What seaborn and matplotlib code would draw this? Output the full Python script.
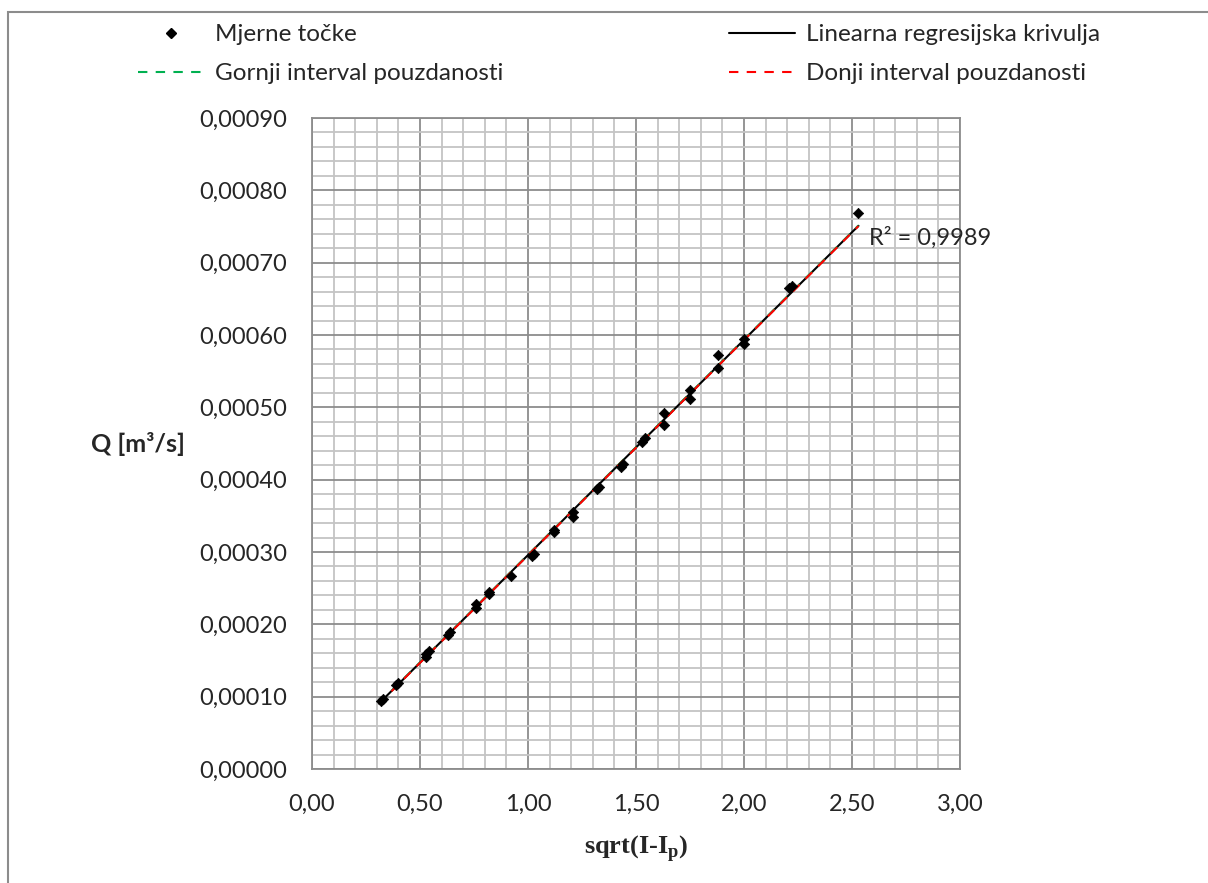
import numpy as np
import pandas as pd
import matplotlib
matplotlib.use("Agg")
import matplotlib.pyplot as plt
import matplotlib.patches as mpatches
from matplotlib.lines import Line2D
from matplotlib.ticker import MultipleLocator, FuncFormatter
import seaborn as sns

# ---------------- data ----------------
x_vals = [0.32, 0.33, 0.39, 0.40, 0.53, 0.53, 0.54, 0.63, 0.64, 0.76, 0.76,
          0.82, 0.82, 0.92, 1.02, 1.03, 1.12, 1.12, 1.21, 1.21, 1.32, 1.33,
          1.43, 1.44, 1.53, 1.54, 1.63, 1.63, 1.75, 1.75, 1.88, 1.88, 2.00,
          2.00, 2.21, 2.22, 2.53]
q_vals = [0.0000940, 0.0000965, 0.0001165, 0.0001195, 0.0001550, 0.0001590,
          0.0001630, 0.0001850, 0.0001900, 0.0002225, 0.0002275, 0.0002415,
          0.0002445, 0.0002665, 0.0002945, 0.0002975, 0.0003270, 0.0003300,
          0.0003490, 0.0003550, 0.0003875, 0.0003895, 0.0004170, 0.0004210,
          0.0004520, 0.0004570, 0.0004760, 0.0004920, 0.0005120, 0.0005240,
          0.0005550, 0.0005730, 0.0005870, 0.0005950, 0.0006650, 0.0006680,
          0.0007690]

# regression line and confidence limits (end points)
line_x = [0.31, 2.53]
fit_q = [0.0000905, 0.0007510]
upper_q = [0.0000908, 0.0007514]
lower_q = [0.0000902, 0.0007506]

r2_label = "R² = 0,9989"
legend_labels = ["Mjerne točke", "Linearna regresijska krivulja",
                 "Gornji interval pouzdanosti", "Donji interval pouzdanosti"]

df = pd.DataFrame({"x": x_vals, "q": q_vals})
line_df = pd.DataFrame({"x": line_x, "fit": fit_q, "up": upper_q, "low": lower_q})

# ---------------- figure ----------------
sns.set_style("white")
plt.rcParams["font.family"] = ["Lato", "DejaVu Sans"]
plt.rcParams["mathtext.fontset"] = "custom"
plt.rcParams["mathtext.rm"] = "Liberation Serif:bold"

GREEN = "#00b050"
RED = "#ff0000"
DASH = (0, (4.5, 4))

fig = plt.figure(figsize=(12.08, 8.83), dpi=100)
ax = fig.add_axes([312 / 1208, 1 - 769 / 883, 648 / 1208, 651 / 883])

sns.lineplot(data=line_df, x="x", y="fit", ax=ax, color="black", lw=1.5)
sns.lineplot(data=line_df, x="x", y="up", ax=ax, color=GREEN, lw=1.5, linestyle=DASH)
sns.lineplot(data=line_df, x="x", y="low", ax=ax, color=RED, lw=1.5, linestyle=DASH)
sns.scatterplot(data=df, x="x", y="q", ax=ax, marker="D", s=28,
                color="black", edgecolor="black", linewidth=0.5, zorder=5)

ax.set_xlim(0, 3)
ax.set_ylim(0, 0.0009)
ax.xaxis.set_major_locator(MultipleLocator(0.5))
ax.xaxis.set_minor_locator(MultipleLocator(0.1))
ax.yaxis.set_major_locator(MultipleLocator(0.0001))
ax.yaxis.set_minor_locator(MultipleLocator(0.00002))
ax.xaxis.set_major_formatter(FuncFormatter(lambda v, p: f"{v:.2f}".replace(".", ",")))
ax.yaxis.set_major_formatter(FuncFormatter(lambda v, p: f"{v:.5f}".replace(".", ",")))
ax.grid(which="major", color="#8c8c8c", lw=1.3)
ax.grid(which="minor", color="#c4c4c4", lw=1.3)
ax.set_axisbelow(True)
ax.tick_params(which="major", direction="out", length=5, width=1.3,
               color="#8c8c8c", labelsize=17, pad=13)
ax.tick_params(which="minor", length=0)
for sp in ax.spines.values():
    sp.set_color("#8c8c8c")
    sp.set_linewidth(1.3)

ax.set_xlabel("sqrt(I-I$_\\mathrm{p}$)", fontsize=19, fontweight="bold",
              family="Liberation Serif", labelpad=13)
ax.set_ylabel("Q [m³/s]", fontsize=18, fontweight="bold", rotation=0,
              ha="right", va="center", labelpad=10)

ax.text(2.58, 0.000735, r2_label, fontsize=17, ha="left", va="center")

# ---------------- legend ----------------
h_pts = Line2D([], [], marker="D", ls="none", color="black", markersize=5)
h_fit = Line2D([], [], color="black", lw=1.5)
h_up = Line2D([], [], color=GREEN, lw=1.5, ls=DASH)
h_low = Line2D([], [], color=RED, lw=1.5, ls=DASH)
leg_kw = dict(loc="upper left", frameon=False, fontsize=17.5, borderpad=0,
              borderaxespad=0, handlelength=2.7, handletextpad=0.45,
              labelspacing=0.75)
fig.legend([h_pts, h_up], [legend_labels[0], legend_labels[2]],
           bbox_to_anchor=(138 / 1208, 1 - 24 / 883), **leg_kw)
fig.legend([h_fit, h_low], [legend_labels[1], legend_labels[3]],
           bbox_to_anchor=(729 / 1208, 1 - 24 / 883), **leg_kw)

# outer chart border
fig.patches.append(mpatches.Rectangle((8 / 1208, -0.1), 1.2, 1.1 - 12 / 883,
                                      transform=fig.transFigure, fill=False,
                                      edgecolor="#8c8c8c", lw=1.5))

fig.savefig("out.png", dpi=100)
